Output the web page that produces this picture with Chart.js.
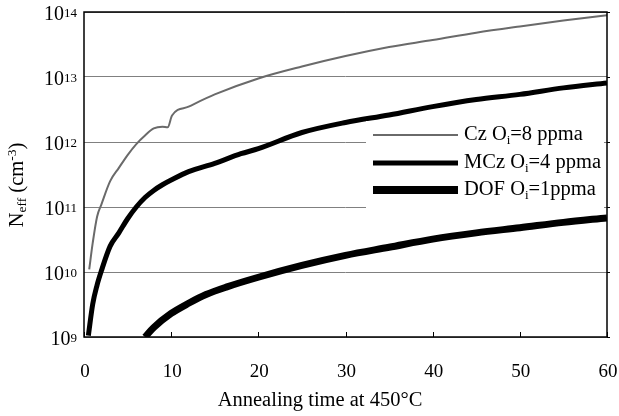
<!DOCTYPE html>
<html>
<head>
<meta charset="utf-8">
<script src="https://cdn.jsdelivr.net/npm/chart.js@4.4.0/dist/chart.umd.min.js"></script>
<style>
  html, body { margin: 0; padding: 0; background: #fff; }
  #wrap { width: 619px; height: 416px; }
</style>
</head>
<body>
<div id="wrap"><canvas id="neffChart" width="619" height="416"></canvas></div>
<script>
// annealing time (x) and Neff (cm^-3)
const czTime = [0.6, 1, 1.5, 2, 3, 4, 5, 6, 7, 8, 9, 9.6, 10.1, 12, 15, 20, 25, 30, 35, 40, 45, 50, 55, 60];
const czNeff = [1.1e10, 2.8e10, 7.1e10, 1.1e11, 2.5e11, 4.0e11, 6.3e11, 9.3e11, 1.26e12, 1.62e12, 1.72e12, 1.68e12, 2.55e12, 3.5e12, 5.4e12, 9.5e12, 1.45e13, 2.1e13, 2.9e13, 3.7e13, 4.8e13, 6.0e13, 7.4e13, 8.9e13];

const mczTime = [0.5, 1, 1.5, 2, 3, 4, 5, 6, 7, 8, 9, 10, 12, 15, 18, 20, 25, 30, 35, 40, 45, 50, 55, 60];
const mczNeff = [1.05e9, 3.2e9, 6.3e9, 1.05e10, 2.5e10, 4.0e10, 6.6e10, 1.0e11, 1.4e11, 1.8e11, 2.2e11, 2.6e11, 3.5e11, 4.7e11, 6.6e11, 7.9e11, 1.4e12, 2.0e12, 2.6e12, 3.5e12, 4.5e12, 5.4e12, 6.8e12, 8.1e12];

const dofTime = [7, 8, 10, 12, 14, 16.4, 20, 25, 30, 35, 40, 45, 50, 55, 60];
const dofNeff = [1.0e9, 1.4e9, 2.3e9, 3.3e9, 4.5e9, 5.9e9, 8.3e9, 1.26e10, 1.8e10, 2.4e10, 3.2e10, 4.0e10, 4.8e10, 5.8e10, 6.8e10];

const xTicks = [0, 10, 20, 30, 40, 50, 60];
const yExps = [9, 10, 11, 12, 13, 14];

const legendItems = [
  { base: "Cz O", sub: "i", rest: "=8 ppma", color: "#6a6a6a", width: 2 },
  { base: "MCz O", sub: "i", rest: "=4 ppma", color: "#000", width: 5 },
  { base: "DOF O", sub: "i", rest: "=1ppma", color: "#000", width: 8 },
];

const serif = '"Liberation Serif", "DejaVu Serif", serif';

function pts(xs, ys) {
  return xs.map((x, i) => ({ x, y: ys[i] }));
}

// ▼ axis labels, frame and legend drawn by hand (super/subscripts)
const chartFrame = {
  id: "chartFrame",
  afterDraw(chart) {
    const { ctx, chartArea } = chart;
    const xs = chart.scales.x;
    const ys = chart.scales.y;
    ctx.save();

    // x ticks (inward)
    ctx.strokeStyle = "#000";
    ctx.lineWidth = 1;
    xTicks.forEach((t) => {
      const px = Math.round(xs.getPixelForValue(t)) + 0.5;
      ctx.beginPath();
      ctx.moveTo(px, chartArea.bottom);
      ctx.lineTo(px, chartArea.bottom - 5);
      ctx.stroke();
    });
    // small ticks on right edge at decades
    yExps.forEach((e) => {
      const py = Math.round(ys.getPixelForValue(Math.pow(10, e))) + 0.5;
      ctx.beginPath();
      ctx.moveTo(chartArea.right, py);
      ctx.lineTo(chartArea.right + 3, py);
      ctx.stroke();
    });

    // frame
    ctx.lineWidth = 1.5;
    ctx.strokeRect(chartArea.left, chartArea.top, chartArea.width, chartArea.height);

    ctx.fillStyle = "#000";
    // x tick labels
    ctx.font = "19px " + serif;
    ctx.textAlign = "center";
    ctx.textBaseline = "middle";
    xTicks.forEach((t) => {
      ctx.fillText(String(t), xs.getPixelForValue(t) + 1, 372);
    });

    // y tick labels 10^n
    yExps.forEach((e) => {
      const py = ys.getPixelForValue(Math.pow(10, e));
      ctx.font = "13px " + serif;
      const sw = ctx.measureText(String(e)).width;
      ctx.textAlign = "right";
      ctx.fillText(String(e), 77, py + 1.5);
      ctx.font = "20px " + serif;
      ctx.fillText("10", 77 - sw, py + 3);
    });

    // x title
    ctx.font = "20.5px " + serif;
    ctx.textAlign = "center";
    ctx.fillText("Annealing time at 450°C", 320, 401);

    // y title: N_eff (cm^-3)
    ctx.save();
    ctx.translate(18, 185);
    ctx.rotate(-Math.PI / 2);
    ctx.textAlign = "left";
    const parts = [
      ["N", 20.5, 0],
      ["eff", 13.5, 4],
      [" (cm", 20.5, 0],
      ["-3", 13.5, -6],
      [")", 20.5, 0],
    ];
    let total = 0;
    parts.forEach(([s, f]) => {
      ctx.font = f + "px " + serif;
      total += ctx.measureText(s).width;
    });
    let cx = -total / 2;
    parts.forEach(([s, f, dy]) => {
      ctx.font = f + "px " + serif;
      ctx.fillText(s, cx, dy);
      cx += ctx.measureText(s).width;
    });
    ctx.restore();

    // legend box
    ctx.fillStyle = "#fff";
    ctx.fillRect(366, 121, 238, 91);
    const rowY = [135, 163, 190];
    legendItems.forEach((it, i) => {
      const y = rowY[i];
      ctx.strokeStyle = it.color;
      ctx.lineWidth = it.width;
      ctx.lineCap = "butt";
      ctx.beginPath();
      ctx.moveTo(373, y);
      ctx.lineTo(458, y);
      ctx.stroke();

      ctx.fillStyle = "#000";
      ctx.textAlign = "left";
      let tx = 464;
      ctx.font = "20.5px " + serif;
      ctx.fillText(it.base, tx, y);
      tx += ctx.measureText(it.base).width;
      ctx.font = "13px " + serif;
      ctx.fillText(it.sub, tx, y + 6);
      tx += ctx.measureText(it.sub).width;
      ctx.font = "20.5px " + serif;
      ctx.fillText(it.rest, tx, y);
    });

    ctx.restore();
  },
};

Chart.register(chartFrame);

new Chart(document.getElementById("neffChart"), {
  type: "line",
  data: {
    datasets: [
      {
        label: "Cz Oi=8 ppma",
        data: pts(czTime, czNeff),
        borderColor: "#6a6a6a",
        borderWidth: 2,
        pointRadius: 0,
        cubicInterpolationMode: "monotone",
      },
      {
        label: "MCz Oi=4 ppma",
        data: pts(mczTime, mczNeff),
        borderColor: "#000",
        borderWidth: 5,
        pointRadius: 0,
        cubicInterpolationMode: "monotone",
      },
      {
        label: "DOF Oi=1ppma",
        data: pts(dofTime, dofNeff),
        borderColor: "#000",
        borderWidth: 7,
        pointRadius: 0,
        cubicInterpolationMode: "monotone",
      },
    ],
  },
  options: {
    responsive: false,
    animation: false,
    layout: { padding: { left: 84, right: 12, top: 12, bottom: 79 } },
    plugins: {
      legend: { display: false },
      tooltip: { enabled: false },
    },
    scales: {
      x: {
        type: "linear",
        min: 0,
        max: 60,
        ticks: { display: false },
        grid: { display: false, drawTicks: false },
        border: { display: false },
      },
      y: {
        type: "logarithmic",
        min: 1e9,
        max: 1e14,
        afterBuildTicks(scale) {
          scale.ticks = yExps.map((e) => ({ value: Math.pow(10, e) }));
        },
        ticks: { display: false },
        grid: { color: "#808080", lineWidth: 1, drawTicks: false },
        border: { display: false },
      },
    },
  },
});
</script>
</body>
</html>
